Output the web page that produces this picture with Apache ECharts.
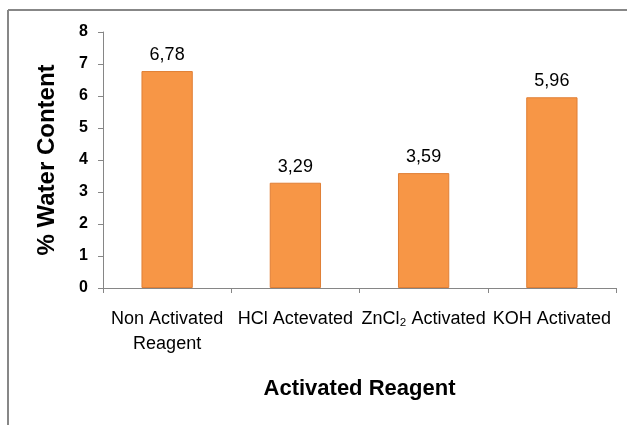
<!DOCTYPE html>
<html>
<head>
<meta charset="utf-8">
<script src="https://cdn.jsdelivr.net/npm/echarts@6/dist/echarts.min.js"></script>
<style>
  html, body { margin: 0; padding: 0; background: #fff; }
  #chart { width: 627px; height: 425px; }
</style>
</head>
<body>
<div id="chart"></div>
<script>
// Water content measured for each activating reagent
const categories = ['Non Activated\nReagent', 'HCl Actevated', 'ZnCl\u2082 Activated', 'KOH Activated'];
const waterContent = [6.78, 3.29, 3.59, 5.96];
const yTicks = { min: 0, max: 8, interval: 1 };

const FONT = '"Liberation Sans", Arial, sans-serif';
const chart = echarts.init(document.getElementById('chart'), null, { renderer: 'canvas' });

chart.setOption({
  animation: false,
  backgroundColor: '#ffffff',
  graphic: [
    { type: 'line', shape: { x1: 8, y1: 10, x2: 640, y2: 10 }, style: { stroke: '#878787', lineWidth: 2 } },
    { type: 'line', shape: { x1: 8, y1: 10, x2: 8, y2: 440 }, style: { stroke: '#878787', lineWidth: 2 } }
  ],
  grid: { left: 103, right: 11, top: 32, bottom: 137, containLabel: false },
  xAxis: {
    type: 'category',
    data: categories,
    name: 'Activated Reagent',
    nameLocation: 'middle',
    nameGap: 90,
    nameTextStyle: { fontFamily: FONT, fontSize: 22, fontWeight: 'bold', color: '#000' },
    axisLine: { lineStyle: { color: '#868686', width: 1 } },
    axisTick: { show: true, length: 5, inside: false, alignWithLabel: false, lineStyle: { color: '#868686' } },
    axisLabel: { fontFamily: FONT, fontSize: 18, color: '#000', margin: 19, lineHeight: 25, interval: 0 }
  },
  yAxis: {
    type: 'value',
    min: yTicks.min,
    max: yTicks.max,
    interval: yTicks.interval,
    name: '% Water Content',
    nameLocation: 'middle',
    nameGap: 44,
    nameRotate: 90,
    nameTextStyle: { fontFamily: FONT, fontSize: 24, fontWeight: 'bold', color: '#000' },
    splitLine: { show: false },
    axisLine: { show: true, lineStyle: { color: '#868686', width: 1 } },
    axisTick: { show: true, length: 5, lineStyle: { color: '#868686' } },
    axisLabel: { fontFamily: FONT, fontSize: 16, fontWeight: 'bold', color: '#000', margin: 15 }
  },
  series: [{
    type: 'bar',
    data: waterContent,
    barWidth: '40%',
    itemStyle: { color: '#F79646', borderColor: '#E07F35', borderWidth: 1 },
    label: {
      show: true,
      position: 'top',
      distance: 7,
      fontFamily: FONT,
      fontSize: 18,
      color: '#000',
      formatter: p => p.value.toFixed(2).replace('.', ',')
    }
  }]
});
</script>
</body>
</html>
